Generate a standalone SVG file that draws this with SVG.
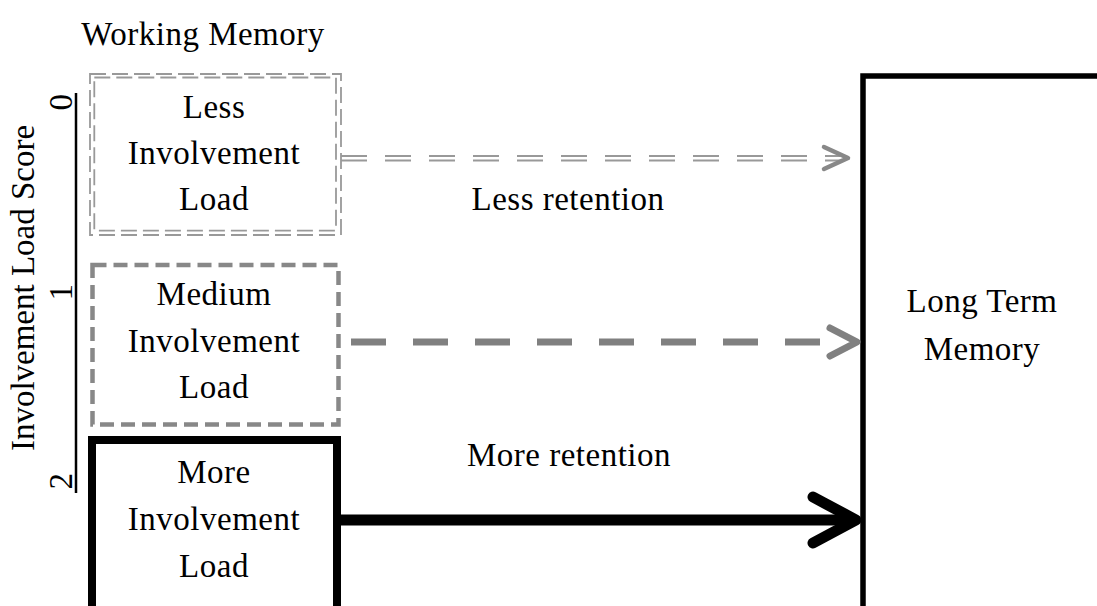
<svg xmlns="http://www.w3.org/2000/svg" width="1097" height="606" viewBox="0 0 1097 606">
<style>
.t{font-family:"Liberation Serif","Times New Roman",serif;font-size:33px;fill:#000;text-anchor:middle;letter-spacing:0.5px}
.dbl{fill:none;stroke:#999;stroke-width:1.8;stroke-dasharray:16 6}
.med{fill:none;stroke:#888;stroke-width:4.5;stroke-dasharray:14 7}
.more{fill:none;stroke:#000;stroke-width:8}
</style>
<rect width="1097" height="606" fill="#fff"/>
<text class="t" x="203" y="45">Working Memory</text>
<g id="axis">
<line x1="76" y1="93" x2="76" y2="493" stroke="#000" stroke-width="2.5"/>
<text class="t" transform="translate(34,288) rotate(-90)" style="letter-spacing:0">Involvement Load Score</text>
<text class="t" transform="translate(72,102) rotate(-90)">0</text>
<text class="t" transform="translate(72,292) rotate(-90)">1</text>
<text class="t" transform="translate(72,481) rotate(-90)">2</text>
</g>
<g id="less-load">
<rect class="dbl" x="90" y="74" width="251" height="161"/>
<rect class="dbl" x="94.3" y="77.5" width="241.7" height="153.2"/>
<text class="t" x="214" y="118">Less</text>
<text class="t" x="214" y="164">Involvement</text>
<text class="t" x="214" y="210">Load</text>
</g>
<g id="medium-load">
<rect class="med" x="92.5" y="265" width="246" height="159.5"/>
<text class="t" x="214" y="305">Medium</text>
<text class="t" x="214" y="352">Involvement</text>
<text class="t" x="214" y="398">Load</text>
</g>
<g id="more-load">
<rect class="more" x="92" y="440" width="245" height="200"/>
<text class="t" x="214" y="483">More</text>
<text class="t" x="214" y="530">Involvement</text>
<text class="t" x="214" y="577">Load</text>
</g>
<g id="long-term-memory">
<rect x="863" y="76" width="300" height="600" fill="none" stroke="#000" stroke-width="5.5"/>
<text class="t" x="982" y="312">Long Term</text>
<text class="t" x="982" y="360">Memory</text>
</g>
<g id="connectors">
<g fill="none" stroke="#999" stroke-width="2" stroke-dasharray="26 18">
<line x1="341" y1="156" x2="840" y2="156"/>
<line x1="341" y1="160.5" x2="840" y2="160.5"/>
</g>
<polyline points="824,147 848,158 824,169" fill="none" stroke="#888" stroke-width="4.5" stroke-linecap="round" stroke-linejoin="round"/>
<line x1="351" y1="342" x2="842" y2="342" stroke="#808080" stroke-width="7" stroke-dasharray="35 27"/>
<polyline points="830,328 857,342 830,356" fill="none" stroke="#808080" stroke-width="7" stroke-linecap="round" stroke-linejoin="round"/>
<line x1="341" y1="520" x2="852" y2="520" stroke="#000" stroke-width="11"/>
<polyline points="813,497 856,520 813,543" fill="none" stroke="#000" stroke-width="11" stroke-linecap="round" stroke-linejoin="round"/>
<text class="t" x="568" y="210">Less retention</text>
<text class="t" x="569" y="466">More retention</text>
</g>
</svg>
